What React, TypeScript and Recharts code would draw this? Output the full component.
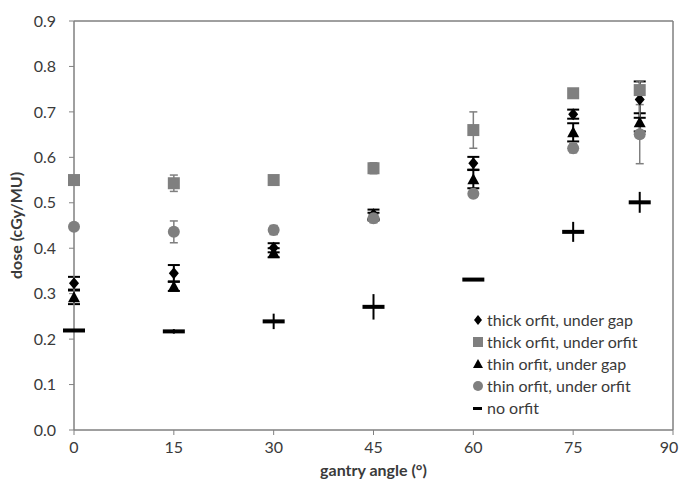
import React from "react";
import {
  ScatterChart, Scatter, XAxis, YAxis, ErrorBar, Legend,
} from "recharts";

const FONT = "Lato, Carlito, Calibri, 'Open Sans', sans-serif";
const TEXT = "#3a3a3a";
const AXIS = "#808080";
const GRAY = "#7f7f7f";

// gantry angles (deg)
const ANGLES = [0, 15, 30, 45, 60, 75, 85];

// dose (cGy/MU) per series, with error bar half-widths
const THICK_GAP = [0.323, 0.345, 0.401, 0.475, 0.587, 0.695, 0.727];
const THICK_GAP_ERR = [0.014, 0.018, 0.01, 0.01, 0.014, 0.01, 0.04];
const THICK_ORFIT = [0.55, 0.543, 0.55, 0.576, 0.66, 0.741, 0.748];
const THICK_ORFIT_ERR = [0.005, 0.018, 0.005, 0.012, 0.04, 0.008, 0.02];
const THIN_GAP = [0.292, 0.316, 0.39, 0.47, 0.552, 0.655, 0.677];
const THIN_GAP_ERR = [0.015, 0.01, 0.01, 0.008, 0.02, 0.02, 0.02];
const THIN_ORFIT = [0.447, 0.436, 0.44, 0.466, 0.52, 0.62, 0.651];
const THIN_ORFIT_ERR = [0.005, 0.024, 0.01, 0.01, 0.008, 0.01, 0.065];
const NO_ORFIT = [0.219, 0.217, 0.239, 0.271, 0.331, 0.436, 0.501];
const NO_ORFIT_ERR = [0, 0.005, 0.017, 0.028, 0, 0.022, 0.023];

// axis ticks
const X_TICKS = [0, 15, 30, 45, 60, 75, 90];
const X_MINOR = [0, 5, 10, 15, 20, 25, 30, 35, 40, 45, 50, 55, 60, 65, 70, 75, 80, 85, 90];
const Y_TICKS = [0, 0.1, 0.2, 0.3, 0.4, 0.5, 0.6, 0.7, 0.8, 0.9];
const Y_MINOR = [
  0, 0.02, 0.04, 0.06, 0.08, 0.1, 0.12, 0.14, 0.16, 0.18, 0.2, 0.22, 0.24, 0.26, 0.28,
  0.3, 0.32, 0.34, 0.36, 0.38, 0.4, 0.42, 0.44, 0.46, 0.48, 0.5, 0.52, 0.54, 0.56, 0.58,
  0.6, 0.62, 0.64, 0.66, 0.68, 0.7, 0.72, 0.74, 0.76, 0.78, 0.8, 0.82, 0.84, 0.86, 0.88, 0.9,
];

const rows = (vals: number[], errs: number[]) =>
  ANGLES.map((a, i) => ({ x: a, y: vals[i], e: errs[i] }));

type P = { cx?: number; cy?: number };

// marker shapes
const Diamond = ({ cx = 0, cy = 0 }: P) => (
  <path d={`M${cx},${cy - 6}L${cx + 5},${cy}L${cx},${cy + 6}L${cx - 5},${cy}Z`} fill="#000" />
);
const Square = ({ cx = 0, cy = 0 }: P) => (
  <rect x={cx - 6} y={cy - 6} width={12} height={12} fill={GRAY} />
);
const Triangle = ({ cx = 0, cy = 0 }: P) => (
  <path d={`M${cx},${cy - 6}L${cx + 6},${cy + 5}L${cx - 6},${cy + 5}Z`} fill="#000" />
);
const Circle = ({ cx = 0, cy = 0 }: P) => <circle cx={cx} cy={cy} r={6} fill={GRAY} />;
const Dash = ({ cx = 0, cy = 0 }: P) => (
  <rect x={cx - 11} y={cy - 2} width={22} height={4} fill="#000" />
);

const SERIES = [
  { name: "thick orfit, under gap", data: rows(THICK_GAP, THICK_GAP_ERR), shape: Diamond, color: "#000", cap: 6 },
  { name: "thick orfit, under orfit", data: rows(THICK_ORFIT, THICK_ORFIT_ERR), shape: Square, color: GRAY, cap: 4 },
  { name: "thin orfit, under gap", data: rows(THIN_GAP, THIN_GAP_ERR), shape: Triangle, color: "#000", cap: 6 },
  { name: "thin orfit, under orfit", data: rows(THIN_ORFIT, THIN_ORFIT_ERR), shape: Circle, color: GRAY, cap: 4 },
  { name: "no orfit", data: rows(NO_ORFIT, NO_ORFIT_ERR), shape: Dash, color: "#000", cap: 0 },
];

function LegendIcon({ i }: { i: number }) {
  switch (i) {
    case 0: return <path d="M6,1L10,6L6,11L2,6Z" fill="#000" />;
    case 1: return <rect x={1} y={1} width={10} height={10} fill={GRAY} />;
    case 2: return <path d="M6,1L11,10L1,10Z" fill="#000" />;
    case 3: return <circle cx={6} cy={6} r={5} fill={GRAY} />;
    default: return <rect x={1} y={5} width={9} height={3} fill="#000" />;
  }
}

function LegendBox() {
  return (
    <div style={{ fontFamily: FONT, fontSize: 16, color: TEXT, lineHeight: "22px" }}>
      {SERIES.map((s, i) => (
        <div key={s.name} style={{ display: "flex", alignItems: "center", whiteSpace: "nowrap" }}>
          <svg width={12} height={12}><LegendIcon i={i} /></svg>
          <span style={{ marginLeft: 3 }}>{s.name}</span>
        </div>
      ))}
    </div>
  );
}

// x tick label, kept inside the picture at the right edge
function XTick({ x = 0, y = 0, payload }: { x?: number; y?: number; payload?: { value: number } }) {
  return (
    <text x={Math.min(x, 669)} y={y} dy="0.71em" textAnchor="middle" fill={TEXT} fontSize={16} fontFamily={FONT}>
      {payload?.value}
    </text>
  );
}

const blank = () => "";

export default function App() {
  return (
    <div style={{ position: "absolute", left: 0, top: 0, background: "#fff" }}>
      <ScatterChart width={679} height={484} margin={{ top: 16, right: 0, bottom: 0, left: 0 }}>
        {/* main axes with labels */}
        <XAxis
          xAxisId="x" type="number" dataKey="x" domain={[0, 90]} ticks={X_TICKS} interval={0}
          height={54} tickSize={5} tickMargin={7}
          axisLine={{ stroke: AXIS }} tickLine={{ stroke: AXIS }}
          tick={<XTick />}
          label={{ value: "gantry angle (°)", position: "insideBottom", offset: 8, fill: TEXT, fontSize: 16, fontWeight: "bold", fontFamily: FONT }}
        />
        <YAxis
          yAxisId="y" type="number" dataKey="y" domain={[0, 0.9]} ticks={Y_TICKS} interval={0}
          width={74} tickSize={5} tickMargin={13}
          tickFormatter={(v: number) => v.toFixed(1)}
          axisLine={{ stroke: AXIS }} tickLine={{ stroke: AXIS }}
          tick={{ fill: TEXT, fontSize: 16, fontFamily: FONT }}
          label={{ value: "dose (cGy/MU)", angle: -90, position: "insideLeft", offset: 16, fill: TEXT, fontSize: 16, fontWeight: "bold", fontFamily: FONT, style: { textAnchor: "middle" } }}
        />
        {/* inward minor ticks and frame */}
        <XAxis xAxisId="xb" type="number" domain={[0, 90]} ticks={X_MINOR} interval={0} mirror tickSize={4} tickFormatter={blank} axisLine={{ stroke: AXIS }} tickLine={{ stroke: AXIS }} />
        <XAxis xAxisId="xt" orientation="top" type="number" domain={[0, 90]} ticks={X_TICKS} interval={0} height={5} tickSize={5} tickMargin={0} tickFormatter={blank} axisLine={{ stroke: AXIS }} tickLine={{ stroke: AXIS }} />
        <XAxis xAxisId="xtm" orientation="top" type="number" domain={[0, 90]} ticks={X_MINOR} interval={0} mirror tickSize={4} tickFormatter={blank} axisLine={{ stroke: AXIS }} tickLine={{ stroke: AXIS }} />
        <YAxis yAxisId="ym" type="number" domain={[0, 0.9]} ticks={Y_MINOR} interval={0} mirror tickSize={4} tickFormatter={blank} axisLine={{ stroke: AXIS }} tickLine={{ stroke: AXIS }} />
        <YAxis yAxisId="yr" orientation="right" type="number" domain={[0, 0.9]} ticks={Y_TICKS} interval={0} width={6} tickSize={5} tickMargin={0} tickFormatter={blank} axisLine={{ stroke: AXIS }} tickLine={{ stroke: AXIS }} />
        <YAxis yAxisId="yrm" orientation="right" type="number" domain={[0, 0.9]} ticks={Y_MINOR} interval={0} mirror tickSize={4} tickFormatter={blank} axisLine={{ stroke: AXIS }} tickLine={{ stroke: AXIS }} />

        {SERIES.map(s => (
          <Scatter
            key={s.name} name={s.name} data={s.data} xAxisId="x" yAxisId="y"
            shape={s.shape} fill={s.color} isAnimationActive={false}
          >
            <ErrorBar dataKey="e" direction="y" width={s.cap} stroke={s.color} strokeWidth={s.color === GRAY ? 1.5 : 2} isAnimationActive={false} />
          </Scatter>
        ))}

        <Legend
          layout="vertical" align="center" verticalAlign="middle"
          content={<LegendBox />}
          wrapperStyle={{ left: 472, top: 309, width: 205, height: 110 }}
        />
      </ScatterChart>
    </div>
  );
}
